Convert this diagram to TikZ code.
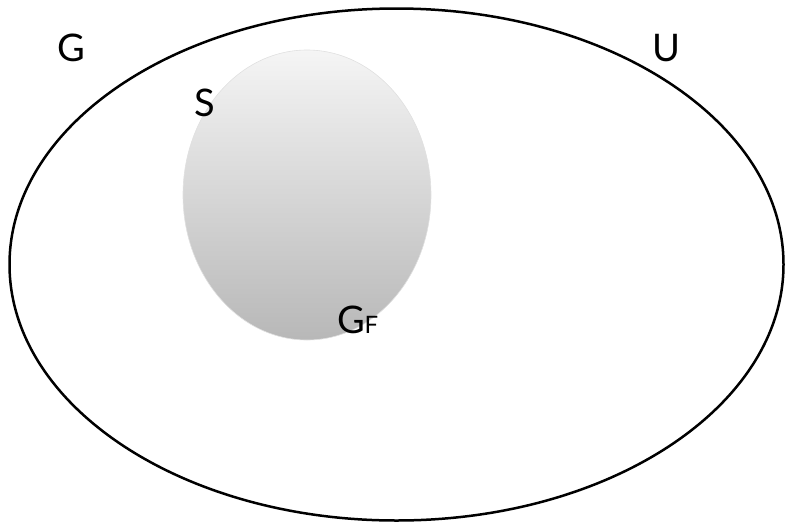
\documentclass[tikz,border=0pt]{standalone}
\usepackage{fontspec}
\setmainfont{Lato}
\begin{document}
\begin{tikzpicture}[x=1pt,y=-1pt,
  lbl/.style={font=\fontsize{38}{40}\selectfont, inner sep=0pt, anchor=base},
  outer/.style={draw=black, line width=2.5pt},
  inner/.style={draw=black!12, line width=0.6pt, top color=black!4, bottom color=black!28}]
\useasboundingbox (0,0) rectangle (785,523);
\path[inner] (307,195) ellipse [x radius=124, y radius=145];
\path[outer] (396.5,264.5) ellipse [x radius=387, y radius=256];
\node[lbl] (g) at (71,61) {G};
\node[lbl] (u) at (666,61) {U};
\node[lbl] (s) at (205,116) {S};
\node[lbl] (gf) at (358,333) {G\kern-1pt\raisebox{0pt}{\fontsize{24}{26}\selectfont F}};
\end{tikzpicture}
\end{document}
